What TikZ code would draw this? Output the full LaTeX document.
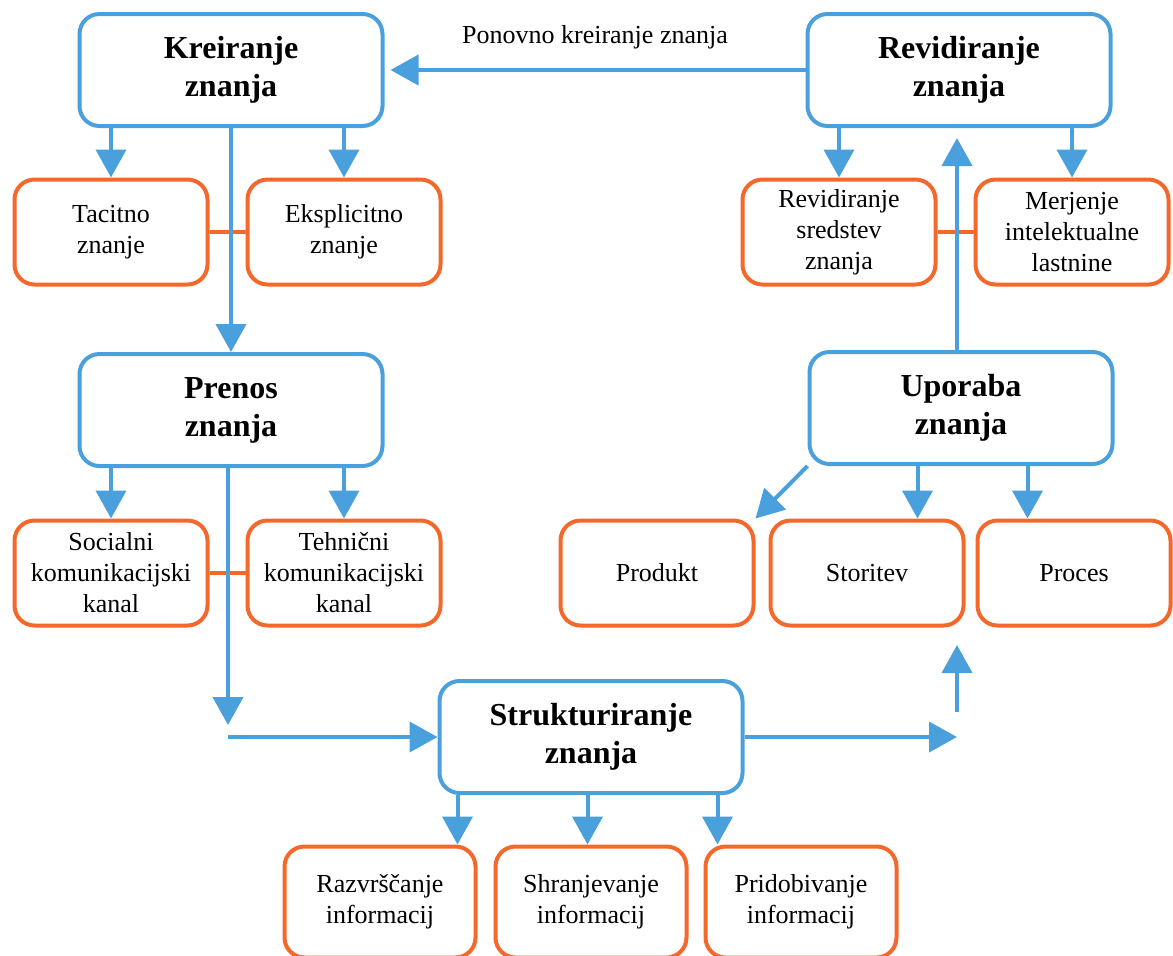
\documentclass[tikz,border=0pt]{standalone}
\usepackage{fontspec}
\setmainfont{Liberation Serif}
\usetikzlibrary{arrows.meta}
\definecolor{knowblue}{RGB}{74,160,220}
\definecolor{knoworange}{RGB}{244,104,44}
\begin{document}
\begin{tikzpicture}[x=0.5pt,y=-0.5pt,
        phase/.style={draw=knowblue, line width=2pt, rounded corners=10pt, minimum width=151.5pt, minimum height=56pt, inner sep=0pt, align=center, font=\fontsize{16}{19}\selectfont\bfseries},
        part/.style={draw=knoworange, line width=2pt, rounded corners=10pt, minimum width=96.5pt, minimum height=52.5pt, inner sep=0pt, align=center, font=\fontsize{13}{15.5}\selectfont},
        flow/.style={knowblue, line width=2pt, -{Triangle[width=15pt,length=14pt]}},
        tie/.style={knoworange, line width=2pt}]
        \clip (0,0) rectangle (1173,955);

        % faze
        \node[phase] (kre) at (231,70) {Kreiranje\\znanja};
        \node[phase] (rev) at (959,70) {Revidiranje\\znanja};
        \node[phase] (pre) at (231,410) {Prenos\\znanja};
        \node[phase] (upo) at (961,408) {Uporaba\\znanja};
        \node[phase] (str) at (591,737) {Strukturiranje\\znanja};

        % podrocja
        \node[part] (tac) at (111,232) {Tacitno\\znanje};
        \node[part] (eks) at (344,232) {Eksplicitno\\znanje};
        \node[part] (sre) at (839,232) {Revidiranje\\sredstev\\znanja};
        \node[part] (mer) at (1072,232) {Merjenje\\intelektualne\\lastnine};
        \node[part] (soc) at (111,573) {Socialni\\komunikacijski\\kanal};
        \node[part] (teh) at (344,573) {Tehnični\\komunikacijski\\kanal};
        \node[part] (prod) at (657,573) {Produkt};
        \node[part] (sto) at (867,573) {Storitev};
        \node[part] (proc) at (1074,573) {Proces};
        \node[part, minimum width=95.5pt, minimum height=55.5pt] (raz) at (380,902) {Razvrščanje\\informacij};
        \node[part, minimum width=95.5pt, minimum height=55.5pt] (shr) at (591,902) {Shranjevanje\\informacij};
        \node[part, minimum width=95.5pt, minimum height=55.5pt] (pri) at (801,902) {Pridobivanje\\informacij};

        \foreach \a/\b in {tac/eks,sre/mer,soc/teh}
            \draw[tie] (\a.east) -- (\b.west);

        \foreach \p/\c in {kre/tac,kre/eks,rev/sre,rev/mer,pre/soc,pre/teh}
            \draw[flow] (\c.north |- \p.south) -- (\c.north);

        \coordinate (u1) at ([xshift=55pt]upo.south west);
        \coordinate (u2) at ([xshift=110pt]upo.south west);
        \draw[flow] (upo.south west) -- (prod.north east);
        \draw[flow] (u1) -- (u1 |- sto.north);
        \draw[flow] (u2) -- (u2 |- proc.north);

        \coordinate (s1) at ([xshift=10pt]str.south west);
        \coordinate (s2) at ([xshift=75pt]str.south west);
        \coordinate (s3) at ([xshift=140pt]str.south west);
        \foreach \s/\c in {s1/raz,s2/shr,s3/pri}
            \draw[flow] (\s) -- (\s |- \c.north);

        % glavni tok
        \draw[flow] (kre.south) -- (pre.north);
        \coordinate (bend) at (228,725);
        \coordinate (feed) at (228,737);
        \coordinate (out) at (957,737);
        \coordinate (rise) at (957,712);
        \coordinate (riseend) at (957,645);
        \draw[flow] (pre.south -| bend) -- (bend);
        \draw[flow] (feed) -- (str.west);
        \draw[flow] (str.east) -- (out);
        \draw[flow] (rise) -- (riseend);
        \draw[flow] (upo.north -| rise) -- ([yshift=-5pt]rev.south -| rise);
        \draw[flow, shorten >=3pt] (rev.west) -- node[above=6pt, black, font=\fontsize{13}{15.5}\selectfont] (again) {Ponovno kreiranje znanja} (kre.east);
\end{tikzpicture}
\end{document}
